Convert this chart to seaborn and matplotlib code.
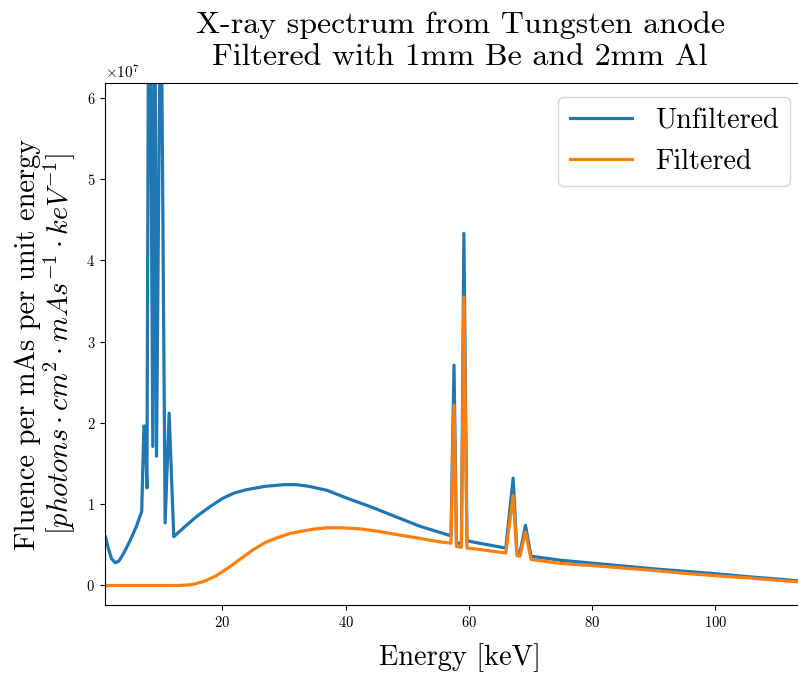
import numpy as np
import pandas as pd
import matplotlib
matplotlib.use("Agg")
import matplotlib.pyplot as plt
import seaborn as sns

# ---- data (values in units of 1e7 photons / (cm^2 mAs keV)) ----
energy_unf = [1.0, 1.5, 2.0, 2.6, 3.2, 4.0, 5.0, 6.0, 6.9, 7.25, 7.45, 7.75, 8.1, 8.7, 9.0,
              9.3, 10.0, 10.7, 11.35, 12.1, 14, 16, 18, 20, 22, 24, 27, 30, 32, 34, 37,
              40, 44, 48, 52, 55, 57.1, 57.6, 58.0, 58.8, 59.2, 59.7, 61, 66.0, 67.2,
              67.8, 68.3, 69.2, 70.1, 75, 80, 85, 90, 95, 100, 105, 110, 116]
unfiltered = [0.60, 0.45, 0.33, 0.28, 0.30, 0.40, 0.55, 0.72, 0.91, 1.96, 1.96, 1.20, 9.5, 1.71, 8.5,
              1.59, 8.0, 0.77, 2.12, 0.60, 0.73, 0.86, 0.97, 1.07, 1.14, 1.18, 1.22, 1.24, 1.24, 1.22, 1.17,
              1.08, 0.97, 0.85, 0.73, 0.66, 0.61, 2.71, 0.52, 0.52, 4.33, 0.55, 0.53, 0.46, 1.32,
              0.42, 0.40, 0.74, 0.36, 0.31, 0.275, 0.24, 0.205, 0.175, 0.145, 0.11, 0.08, 0.04]

energy_filt = [1.0, 5.0, 10.0, 13.0, 15, 17, 19, 21, 23, 25, 27, 29, 31, 33, 35, 37, 39, 42,
               45, 48, 52, 55, 57.1, 57.6, 58.0, 58.8, 59.2, 59.7, 61, 66.0, 67.2, 67.8, 68.3,
               69.2, 70.1, 75, 80, 85, 90, 95, 100, 105, 110, 116]
filtered = [0.0, 0.0, 0.0, 0.0, 0.01, 0.05, 0.12, 0.22, 0.33, 0.44, 0.53, 0.59, 0.64, 0.67, 0.695, 0.71, 0.71, 0.70,
            0.67, 0.63, 0.58, 0.54, 0.52, 2.22, 0.48, 0.47, 3.55, 0.46, 0.45, 0.40, 1.11, 0.37, 0.36,
            0.66, 0.32, 0.27, 0.245, 0.215, 0.185, 0.15, 0.12, 0.095, 0.065, 0.03]

series_names = ["Unfiltered", "Filtered"]

plt.rcParams.update({
    "font.family": "serif",
    "font.serif": ["cmr10"],
    "mathtext.fontset": "cm",
    "axes.unicode_minus": False,
    "axes.formatter.use_mathtext": True,
})

df_unf = pd.DataFrame({"energy": energy_unf, "fluence": np.array(unfiltered) * 1e7})
df_filt = pd.DataFrame({"energy": energy_filt, "fluence": np.array(filtered) * 1e7})

fig = plt.figure(figsize=(7.98, 6.75), dpi=100)
W, H = 798, 675
ax = fig.add_axes([105 / W, (H - 605) / H, (815 - 105) / W, (605 - 83) / H])

sns.lineplot(data=df_unf, x="energy", y="fluence", ax=ax, color="#1f77b4", lw=2.3,
             label=series_names[0], estimator=None)
sns.lineplot(data=df_filt, x="energy", y="fluence", ax=ax, color="#ff7f0e", lw=2.3,
             label=series_names[1], estimator=None)

ax.set_xlim(0.94, 116.2)
ax.set_ylim(-0.24e7, 6.18e7)
ax.set_xticks([20, 40, 60, 80, 100])
ax.tick_params(labelsize=10.5)
ax.yaxis.get_offset_text().set_fontsize(11)

ax.set_title("X-ray spectrum from Tungsten anode\nFiltered with 1mm Be and 2mm Al",
             fontsize=23, linespacing=1.22, pad=13)
ax.set_xlabel("Energy [keV]", fontsize=20.5, labelpad=10)
ax.set_ylabel("Fluence per mAs per unit energy\n"
              r"$[photons \cdot cm^2 \cdot mAs^{-1} \cdot keV^{-1}]$", fontsize=20.5,
              linespacing=1.05, labelpad=6)

ax.legend(loc="upper right", bbox_to_anchor=(790 / W, (H - 96.7) / H),
          bbox_transform=fig.transFigure, borderaxespad=0, fontsize=20.3, handlelength=2.23)

fig.savefig("out.png", dpi=100)
